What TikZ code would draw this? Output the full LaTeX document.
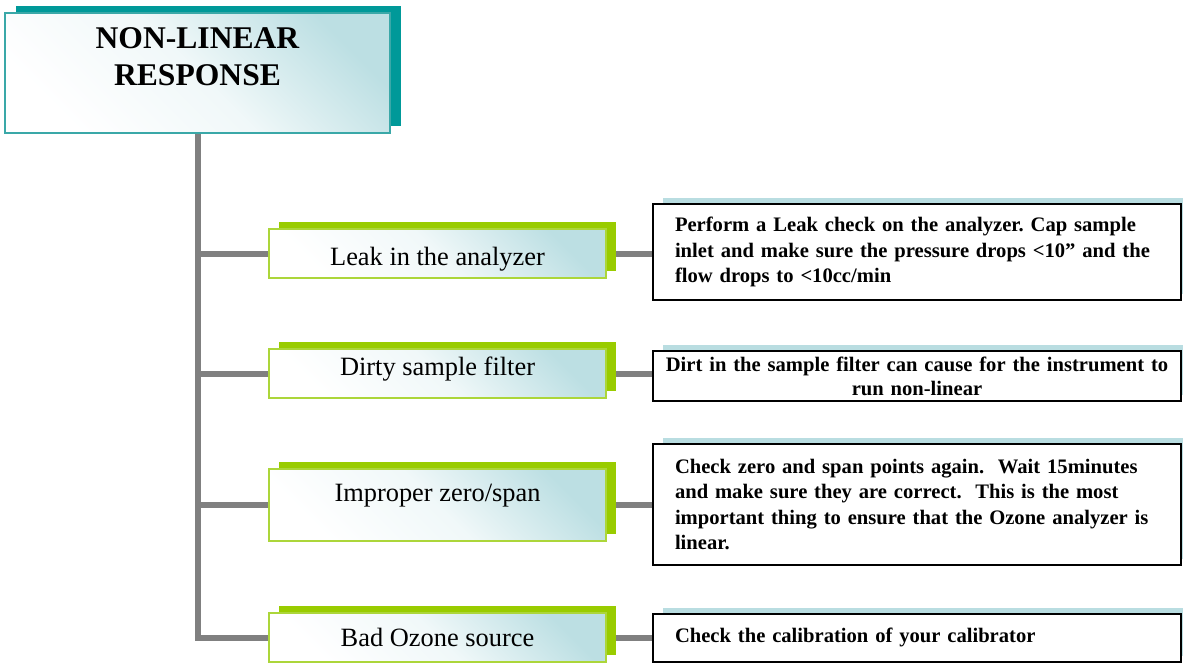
\documentclass[tikz,border=0pt]{standalone}
\usepackage{fontspec}
\setmainfont{Liberation Serif}
\usepackage{tikz}
\usetikzlibrary{positioning, shadows, backgrounds}
\frenchspacing

\definecolor{headteal}{HTML}{009999}
\definecolor{headedge}{HTML}{3AA8A8}
\definecolor{glow}{HTML}{BCDFE3}
\definecolor{causegreen}{HTML}{99CC00}
\definecolor{causeedge}{HTML}{ACD63A}
\definecolor{fixteal}{HTML}{B9DDE1}
\definecolor{linkgray}{HTML}{808080}

\begin{document}
\begin{tikzpicture}[x=0.5pt, y=-0.5pt,
    link/.style={draw=linkgray, line width=3pt},
    glowfill/.style={top color=glow, bottom color=white, middle color=glow!22!white, shading angle=-45},
    headbox/.style={glowfill, draw=headedge, line width=0.8pt, minimum width=192.5pt, minimum height=60pt,
        general shadow={fill=headteal, shadow xshift=5.5pt, shadow yshift=3.75pt}},
    causebox/.style={glowfill, draw=causeedge, line width=0.8pt, minimum width=168.5pt, minimum height=24.5pt,
        font=\fontsize{13.2}{15}\selectfont, text height=9pt, text depth=3pt,
        general shadow={fill=causegreen, shadow xshift=5pt, shadow yshift=3.5pt}},
    fixbox/.style={draw=black, line width=1pt, fill=white, minimum width=264pt, inner xsep=11pt,
        text width=242pt, align=left, font=\fontsize{10.3}{12.7}\bfseries\selectfont,
        general shadow={fill=fixteal, shadow xshift=5pt, shadow yshift=3pt}}]
    \useasboundingbox (0,0) rectangle (1183,666);

    % heading
    \node[headbox] (head) at (197.5,73) {};
    \node[anchor=north, align=center, font=\fontsize{15.8}{18.5}\bfseries\selectfont] (headtext)
        at ([yshift=-4.2pt]head.north) {NON-LINEAR\\RESPONSE};

    % causes
    \node[causebox, text height=14.5pt] (leak) at (437.5,253.5) {Leak in the analyzer};
    \node[causebox, text depth=7.5pt] (filter) at (437.5,373.5) {Dirty sample filter};
    \node[causebox, minimum height=36pt, text depth=13pt] (zerospan) at (437.5,505) {Improper zero/span};
    \node[causebox, text height=11.5pt] (ozone) at (437.5,637.5) {Bad Ozone source};

    % what to do
    \node[fixbox, minimum height=48pt] (leakfix) at (917,252)
        {Perform a Leak check on the analyzer. Cap sample\\inlet and make sure the pressure drops <10” and the\\flow drops to <10cc/min};
    \node[fixbox, minimum height=25pt, inner xsep=2pt, inner ysep=0.5pt, text width=260pt, align=center,
        font=\fontsize{10.3}{12}\bfseries\selectfont] (filterfix) at (917,376)
        {Dirt in the sample filter can cause for the instrument to\\run non-linear};
    \node[fixbox, minimum height=60.5pt] (zerospanfix) at (917,504.5)
        {Check zero and span points again.~ Wait 15minutes\\and make sure they are correct.~ This is the most\\important thing to ensure that the Ozone analyzer is\\linear.};
    \node[fixbox, minimum height=24pt] (ozonefix) at (917,637.5) {Check the calibration of your calibrator};

    \begin{scope}[on background layer]
        \draw[link] (head.south) |- (ozone.west);
        \draw[link] (head.south |- leak.west) -- (leak.west);
        \draw[link] (head.south |- filter.west) -- (filter.west);
        \draw[link] (head.south |- zerospan.west) -- (zerospan.west);
        \draw[link] (leak.east) -- (leak.east -| leakfix.west);
        \draw[link] (filter.east) -- (filter.east -| filterfix.west);
        \draw[link] (zerospan.east) -- (zerospan.east -| zerospanfix.west);
        \draw[link] (ozone.east) -- (ozone.east -| ozonefix.west);
    \end{scope}
\end{tikzpicture}
\end{document}
